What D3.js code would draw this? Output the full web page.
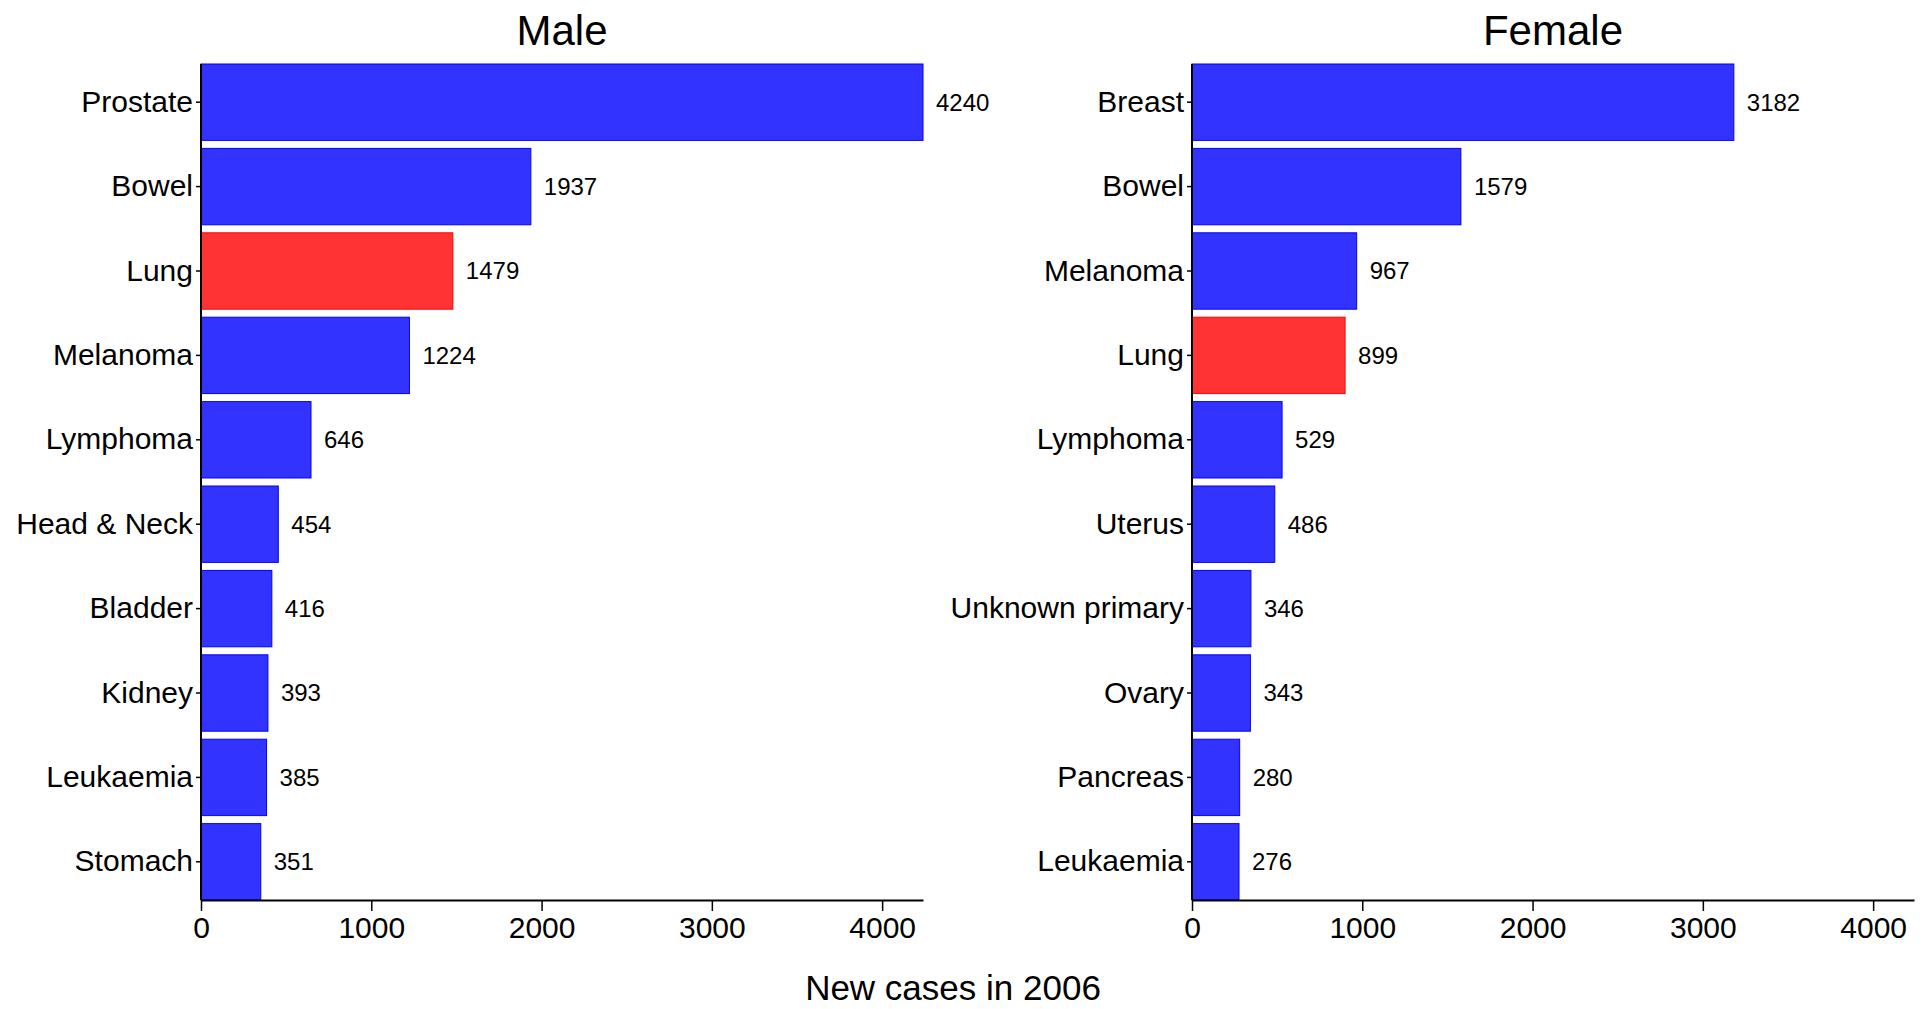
<!DOCTYPE html>
<html>
<head>
<meta charset="utf-8">
<script src="https://cdn.jsdelivr.net/npm/d3@7.9.0/dist/d3.min.js"></script>
<style>
  body { margin: 0; background: #fff; }
  svg { display: block; font-family: "Liberation Sans", Arial, sans-serif; }
</style>
</head>
<body>
<svg id="chart" width="1923" height="1009"></svg>
<script>
// data
const maleSites = ["Prostate", "Bowel", "Lung", "Melanoma", "Lymphoma", "Head & Neck", "Bladder", "Kidney", "Leukaemia", "Stomach"];
const maleCases = [4240, 1937, 1479, 1224, 646, 454, 416, 393, 385, 351];
const femaleSites = ["Breast", "Bowel", "Melanoma", "Lung", "Lymphoma", "Uterus", "Unknown primary", "Ovary", "Pancreas", "Leukaemia"];
const femaleCases = [3182, 1579, 967, 899, 529, 486, 346, 343, 280, 276];
const xTicks = [0, 1000, 2000, 3000, 4000];
const highlight = "Lung";

const svg = d3.select("#chart");
const plotTop = 64, plotBottom = 900;
const xMax = d3.max(maleCases.concat(femaleCases));
const font = "'Liberation Sans', Arial, sans-serif";

function drawPanel(title, sites, cases, x0, x1) {
  const data = sites.map((s, i) => ({ site: s, value: cases[i] }));
  const x = d3.scaleLinear().domain([0, xMax]).range([x0, x1]);
  const y = d3.scaleBand().domain(sites).range([plotTop, plotBottom]).paddingInner(0.095).paddingOuter(0);

  const g = svg.append("g");

  g.selectAll("rect.bar")
    .data(data)
    .join("rect")
    .attr("class", "bar")
    .attr("x", x(0))
    .attr("y", (d) => y(d.site))
    .attr("width", (d) => x(d.value) - x(0))
    .attr("height", y.bandwidth())
    .attr("fill", (d) => (d.site === highlight ? "#ff3333" : "#3333ff"))
    .attr("stroke", (d) => (d.site === highlight ? "#ff0000" : "#0000ff"))
    .attr("stroke-width", 1);

  g.selectAll("text.val")
    .data(data)
    .join("text")
    .attr("class", "val")
    .attr("x", (d) => x(d.value) + 13)
    .attr("y", (d) => y(d.site) + y.bandwidth() / 2)
    .attr("dy", "0.35em")
    .attr("font-size", 24)
    .text((d) => d.value);

  // y axis
  const yAxis = g.append("g")
    .attr("transform", `translate(${x0},0)`)
    .call(d3.axisLeft(y).tickSize(5).tickPadding(3));
  yAxis.select(".domain").attr("d", `M0,${plotTop}V${plotBottom}`).attr("stroke-width", 2);
  yAxis.selectAll("text").attr("font-size", 30).attr("fill", "#000").attr("font-family", font);
  yAxis.selectAll("line").attr("stroke-width", 1.5);

  // x axis
  const xAxis = g.append("g")
    .attr("transform", `translate(0,${plotBottom})`)
    .call(d3.axisBottom(x).tickValues(xTicks).tickFormat(d3.format("d")).tickSize(11).tickSizeOuter(0).tickPadding(6));
  xAxis.select(".domain").attr("stroke-width", 2);
  xAxis.selectAll("line").attr("stroke-width", 1.5);
  xAxis.selectAll("text").attr("font-size", 30).attr("fill", "#000").attr("font-family", font);

  svg.append("text")
    .attr("x", (x0 + x1) / 2)
    .attr("y", 45)
    .attr("text-anchor", "middle")
    .attr("font-size", 42)
    .text(title);
}

drawPanel("Male", maleSites, maleCases, 201, 923);
drawPanel("Female", femaleSites, femaleCases, 1192, 1914);

svg.append("text")
  .attr("x", 953)
  .attr("y", 1000)
  .attr("text-anchor", "middle")
  .attr("font-size", 35)
  .text("New cases in 2006");
</script>
</body>
</html>
